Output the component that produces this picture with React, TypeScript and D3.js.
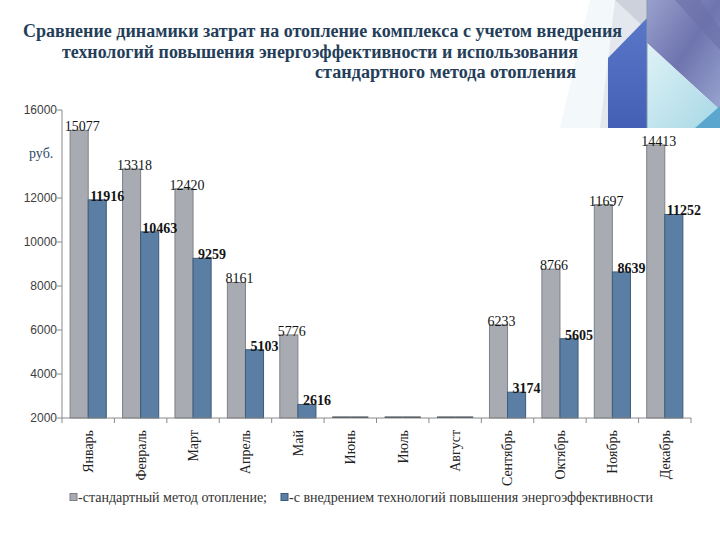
import React from "react";
import * as d3 from "d3";

const months = ["Январь", "Февраль", "Март", "Апрель", "Май", "Июнь", "Июль", "Август", "Сентябрь", "Октябрь", "Ноябрь", "Декабрь"];
const standardValues = [15077, 13318, 12420, 8161, 5776, 0, 0, 0, 6233, 8766, 11697, 14413];
const efficientValues = [11916, 10463, 9259, 5103, 2616, 0, 0, 0, 3174, 5605, 8639, 11252];
const yTicks = [2000, 4000, 6000, 8000, 10000, 12000, 16000];
const titleLines = [
  "Сравнение динамики затрат на отопление комплекса с учетом внедрения",
  "технологий повышения энергоэффективности и использования",
  "стандартного метода отопления",
];
const legendLabels = ["-стандартный метод отопление;", "-с внедрением технологий повышения энергоэффективности"];
const unitLabel = "руб.";

const W = 720, H = 540;
const left = 62, right = 691, top = 110, bottom = 418;

export default function App() {
  const y = d3.scaleLinear().domain([2000, 16000]).range([bottom, top]).clamp(true);
  const x = d3.scaleBand<string>().domain(months).range([left, right]).paddingInner(0.31).paddingOuter(0.155);
  const sub = d3.scaleBand<string>().domain(["s", "e"]).range([0, x.bandwidth()]);
  const step = x.step();
  const serif = "Liberation Serif, DejaVu Serif, serif";
  const sans = "Liberation Sans, Arial, sans-serif";
  const series = [
    { key: "s", values: standardValues, fill: "#a8acb2", stroke: "#7d8187", dx: 3, weight: 400 },
    { key: "e", values: efficientValues, fill: "#5a7ea4", stroke: "#3d5a79", dx: 10, weight: 700 },
  ];
  const titleX = [[23, 599], [62, 516], [315, 261]];
  const titleY = [37, 58, 78];

  return (
    <svg width={W} height={H} style={{ position: "absolute", left: 0, top: 0, background: "#fff" }}>
      <defs>
        <linearGradient id="purp" x1="0" y1="0" x2="1" y2="1">
          <stop offset="0" stopColor="#9aa0cc" />
          <stop offset="0.5" stopColor="#6e74ae" />
          <stop offset="1" stopColor="#98a4d0" />
        </linearGradient>
        <linearGradient id="blueP" x1="0" y1="0" x2="0" y2="1">
          <stop offset="0" stopColor="#5a76c8" />
          <stop offset="1" stopColor="#4460b6" />
        </linearGradient>
        <linearGradient id="cyan" x1="0" y1="0" x2="1" y2="1">
          <stop offset="0" stopColor="#e0f2f6" />
          <stop offset="1" stopColor="#a6d8e6" />
        </linearGradient>
        <clipPath id="deco"><rect x={560} y={0} width={160} height={128} /></clipPath>
      </defs>
      <g clipPath="url(#deco)">
        <polygon points="590,0 615,0 608,128 560,128" fill="#f3f8fa" />
        <polygon points="615,0 647,0 647,40 608,128 600,128" fill="#e4e8ee" />
        <polygon points="615,0 647,0 647,30" fill="#cdd1dc" />
        <polygon points="647,0 720,0 720,110 647,43" fill="url(#purp)" />
        <polygon points="675,0 700,0 720,28 720,50" fill="#6a6fa8" opacity="0.6" />
        <polygon points="647,43 720,110 720,128 647,128" fill="url(#cyan)" />
        <polygon points="695,128 720,106 720,128" fill="#5aa6cf" />
        <polygon points="608,58 647,18 647,128 608,128" fill="url(#blueP)" />
        <line x1={647} y1={0} x2={647} y2={128} stroke="#7e9cb2" strokeWidth={1} />
      </g>

      {titleLines.map((t, i) => (
        <text key={i} x={titleX[i][0]} y={titleY[i]} textLength={titleX[i][1]} lengthAdjust="spacingAndGlyphs"
          style={{ fontFamily: serif, fontWeight: 700, fontSize: 18 }} fill="#243e5a">{t}</text>
      ))}

      {/* y axis */}
      <line x1={left} y1={top} x2={left} y2={bottom} stroke="#8a8a8a" />
      {yTicks.map((t) => (
        <g key={t}>
          <line x1={left - 5} x2={left} y1={y(t)} y2={y(t)} stroke="#8a8a8a" />
          <text x={left - 5} y={y(t)} dy="0.35em" textAnchor="end" style={{ fontFamily: sans, fontSize: 12 }} fill="#404040">{t}</text>
        </g>
      ))}
      <text x={29} y={158} style={{ fontFamily: serif, fontSize: 14 }} fill="#2d4a6b">{unitLabel}</text>

      {/* bars */}
      {series.map((s) => (
        <g key={s.key}>
          {months.map((m, i) => {
            const v = s.values[i];
            const bx = (x(m) as number) + (sub(s.key) as number);
            const bw = sub.bandwidth();
            if (v <= 2000) {
              return <rect key={m} x={bx} y={bottom - 1.5} width={bw} height={1.5} fill="#2e3a46" />;
            }
            return <rect key={m} x={bx} y={y(v)} width={bw} height={bottom - y(v)} fill={s.fill} stroke={s.stroke} strokeWidth={1} />;
          })}
        </g>
      ))}
      {series.map((s) => (
        <g key={s.key + "l"}>
          {months.map((m, i) => {
            const v = s.values[i];
            if (v <= 2000) return null;
            const bx = (x(m) as number) + (sub(s.key) as number) + sub.bandwidth() / 2 + s.dx;
            return <text key={m} x={bx} y={y(v) + 1} textAnchor="middle"
              style={{ fontFamily: serif, fontSize: 14, fontWeight: s.weight }} fill="#141414">{v}</text>;
          })}
        </g>
      ))}

      {/* x axis */}
      <line x1={left} y1={bottom} x2={right} y2={bottom} stroke="#8a8a8a" />
      {d3.range(months.length + 1).map((k) => (
        <line key={k} x1={left + k * step} x2={left + k * step} y1={bottom} y2={bottom + 5} stroke="#8a8a8a" />
      ))}
      {months.map((m) => {
        const cx = (x(m) as number) + x.bandwidth() / 2;
        return (
          <text key={m} transform={`translate(${cx},430) rotate(-90)`} dy="0.35em" textAnchor="end"
            style={{ fontFamily: serif, fontSize: 14 }} fill="#222">{m}</text>
        );
      })}

      {/* legend */}
      <rect x={70} y={493.5} width={7} height={7} fill="#a8acb2" stroke="#7d8187" />
      <text x={78} y={502} textLength={189} lengthAdjust="spacingAndGlyphs" style={{ fontFamily: serif, fontSize: 14 }} fill="#333">{legendLabels[0]}</text>
      <rect x={281} y={493.5} width={7} height={7} fill="#5a7ea4" stroke="#3d5a79" />
      <text x={289} y={502} textLength={364} lengthAdjust="spacingAndGlyphs" style={{ fontFamily: serif, fontSize: 14 }} fill="#333">{legendLabels[1]}</text>
    </svg>
  );
}
